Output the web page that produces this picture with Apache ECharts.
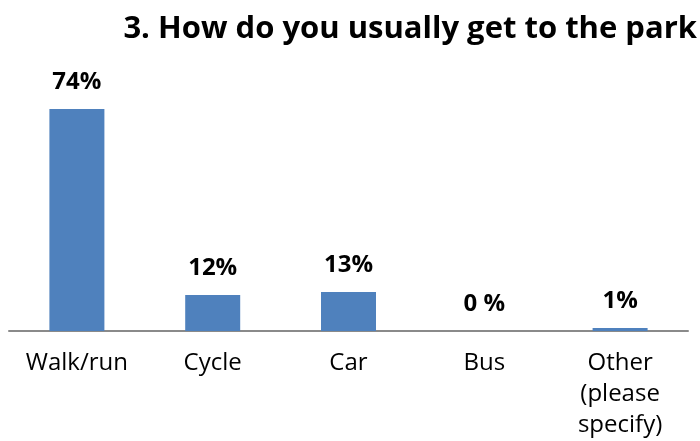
<!DOCTYPE html>
<html>
<head>
<meta charset="utf-8">
<script src="https://cdn.jsdelivr.net/npm/echarts@6/dist/echarts.min.js"></script>
<style>
  html, body { margin: 0; padding: 0; background: #fff; }
  #chart { width: 700px; height: 441px; }
</style>
</head>
<body>
<div id="chart"></div>
<script>
// Survey answers: how respondents usually travel to the park (percent)
const categories = ['Walk/run', 'Cycle', 'Car', 'Bus', 'Other\n(please\nspecify)'];
const values = [74, 12, 13, 0, 1];
const valueLabels = ['74%', '12%', '13%', '0 %', '1%'];

const chart = echarts.init(document.getElementById('chart'), null, { renderer: 'canvas' });

chart.setOption({
  animation: false,
  title: {
    text: '3. How do you usually get to the park',
    right: 3,
    top: 14,
    padding: 0,
    textStyle: {
      fontFamily: 'Open Sans',
      fontWeight: 'bold',
      fontSize: 31,
      color: '#000'
    }
  },
  grid: {
    left: 9,
    right: 12,
    top: 91,
    bottom: 109,
    containLabel: false
  },
  xAxis: {
    type: 'category',
    data: categories,
    axisLine: { show: true, lineStyle: { color: '#8a8a8a', width: 2 } },
    axisTick: { show: false },
    axisLabel: {
      interval: 0,
      margin: 17,
      fontFamily: 'Open Sans',
      fontSize: 24,
      lineHeight: 31,
      color: '#000',
      align: 'center'
    }
  },
  yAxis: {
    type: 'value',
    min: 0,
    max: 80,
    show: false,
    splitLine: { show: false }
  },
  series: [{
    type: 'bar',
    data: values,
    barWidth: 55,
    itemStyle: { color: '#4F81BD' },
    label: {
      show: true,
      position: 'top',
      distance: 15,
      fontFamily: 'Open Sans',
      fontWeight: 'bold',
      fontSize: 24,
      color: '#000',
      formatter: (p) => valueLabels[p.dataIndex]
    }
  }]
});
</script>
</body>
</html>
